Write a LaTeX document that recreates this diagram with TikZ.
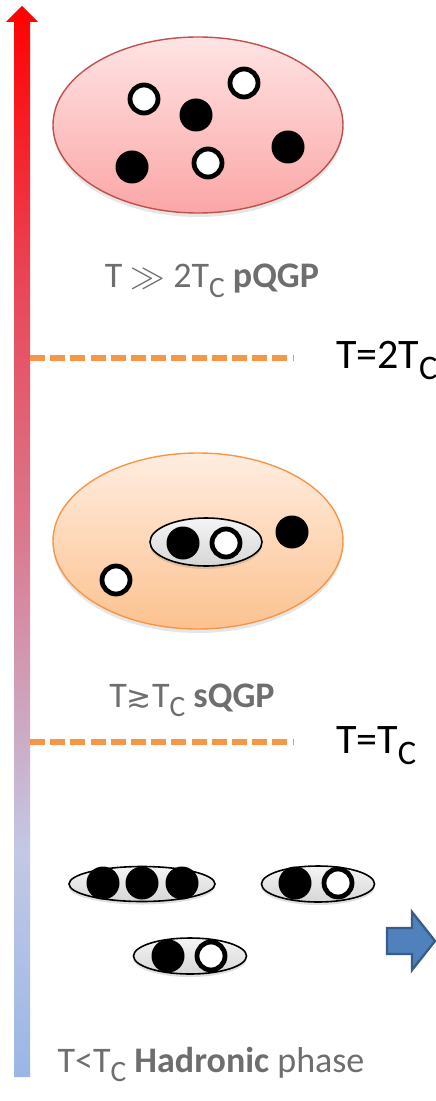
\documentclass[tikz,border=0pt]{standalone}
\usepackage{amssymb}
\usepackage{graphicx}
\usepackage{fontspec}
\setmainfont{Carlito}
\newfontfamily\symfont{DejaVu Sans}
\usetikzlibrary{shapes.geometric,shadows}

\definecolor{hotred}{HTML}{C0504D}
\definecolor{hotpinkA}{HTML}{FFE4E4}
\definecolor{hotpinkB}{HTML}{FBA6A6}
\definecolor{warmorange}{HTML}{F79646}
\definecolor{warmpeachA}{HTML}{FFEDE0}
\definecolor{warmpeachB}{HTML}{FCC28F}
\definecolor{labelgray}{HTML}{6E6E6E}
\definecolor{barhot}{HTML}{E84A5A}
\definecolor{barmid}{HTML}{DA7A90}
\definecolor{barlav}{HTML}{C3C8E4}
\definecolor{barblue}{HTML}{9AB6E6}
\definecolor{arrowblue}{HTML}{4F81BD}
\definecolor{arrowdark}{HTML}{385D8A}

\pgfdeclareverticalshading{tempbar}{100bp}{color(0bp)=(barblue); color(25bp)=(barblue);
  color(35.6bp)=(barlav); color(50bp)=(barmid); color(61.3bp)=(barhot); color(75bp)=(red); color(100bp)=(red)}

% lowered subscript C as in the slide
\newcommand{\subC}{\raisebox{-0.27em}{\scalebox{0.82}{C}}}

\begin{document}
\begin{tikzpicture}[x=0.5pt, y=-0.5pt,
    quark/.style={circle, fill=black, minimum size=16.5pt, inner sep=0pt},
    antiquark/.style={circle, draw=black, line width=2.4pt, fill=white, minimum size=14pt, inner sep=0pt},
    hadron/.style={ellipse, draw=black, line width=0.8pt, top color=gray!8, bottom color=gray!32, inner sep=0pt,
        drop shadow={opacity=0.25, shadow xshift=0pt, shadow yshift=-1.5pt}},
    plasma/.style={ellipse, minimum width=145pt, minimum height=88pt, inner sep=0pt, line width=0.7pt,
        drop shadow={opacity=0.2, shadow xshift=0pt, shadow yshift=-2pt}},
    phase/.style={font=\fontsize{18}{20}\selectfont, text=labelgray, anchor=base},
    limit/.style={font=\fontsize{21}{24}\selectfont, anchor=base west},
    boundary/.style={draw=warmorange, line width=3pt, dash pattern=on 7.5pt off 2.6pt}]
    \useasboundingbox (0,0) rectangle (435,1101);

    % Temperature axis
    \shade[shading=tempbar]
        (14,1077) -- (14,22) -- (6,22) -- (22,6) -- (38,22) -- (30,22) -- (30,1077) -- cycle;

    % pQGP
    \node[plasma, draw=hotred, top color=hotpinkA, bottom color=hotpinkB] (pqgp) at (198,125) {};
    \node[antiquark] (p1) at (144,99) {};
    \node[quark] (p2) at (196,115) {};
    \node[antiquark] (p3) at (244,83) {};
    \node[quark] (p4) at (132,167) {};
    \node[antiquark] (p5) at (208,163) {};
    \node[quark] (p6) at (288,147) {};
    \node[phase] (pqgplabel) at (212,288) {T $\gg$ 2T\subC{} \textbf{pQGP}};

    % T = 2Tc
    \coordinate (twoa) at (30,358);
    \coordinate (twob) at (293,358);
    \draw[boundary] (twoa) -- (twob);
    \node[limit] (twotc) at (329,368) {T=2T\subC};

    % sQGP
    \node[plasma, draw=warmorange, top color=warmpeachA, bottom color=warmpeachB] (sqgp) at (198,541) {};
    \node[hadron, minimum width=56pt, minimum height=24pt] (smeson) at (206,542) {};
    \node[quark] (s1) at (183,543) {};
    \node[antiquark] (s2) at (226,543) {};
    \node[quark] (s3) at (292,532) {};
    \node[antiquark] (s4) at (116,580) {};
    \node[phase] (sqgplabel) at (192,707) {T{\symfont\fontsize{15}{18}\selectfont ≳}T\subC{} \textbf{sQGP}};

    % T = Tc
    \coordinate (onea) at (30,742);
    \coordinate (oneb) at (293,742);
    \draw[boundary] (onea) -- (oneb);
    \node[limit] (tc) at (329,753) {T=T\subC};

    % Hadrons
    \node[hadron, minimum width=73pt, minimum height=17.5pt] (baryon) at (142,884) {};
    \node[quark] (b1) at (103,883) {};
    \node[quark] (b2) at (142,883) {};
    \node[quark] (b3) at (182,883) {};
    \node[hadron, minimum width=56.5pt, minimum height=18pt] (mesona) at (318,884) {};
    \node[quark] (m1) at (295,883) {};
    \node[antiquark] (m2) at (338,883) {};
    \node[hadron, minimum width=56.5pt, minimum height=18pt] (mesonb) at (190,956) {};
    \node[quark] (m3) at (168,956) {};
    \node[antiquark] (m4) at (211,956) {};
    \node[phase] (hadlabel) at (211,1072) {T<T\subC{} \textbf{Hadronic} phase};

    % Block arrow
    \filldraw[fill=arrowblue, draw=arrowdark, line width=1.2pt]
        (387,928) -- (412,928) -- (412,912) -- (435,941) -- (412,970) -- (412,954) -- (387,954) -- cycle;
\end{tikzpicture}
\end{document}
